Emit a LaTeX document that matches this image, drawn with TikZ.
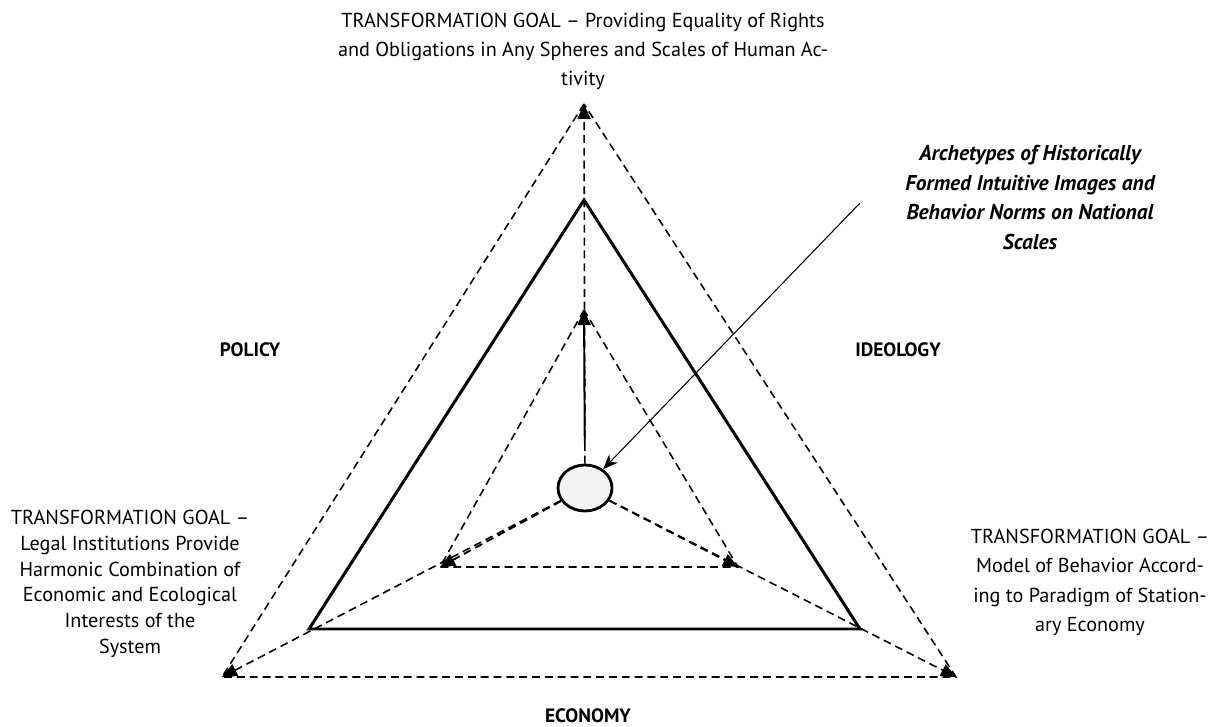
\documentclass[tikz,border=0pt]{standalone}
\usepackage{fontspec}
\setmainfont{PT Sans}
\usetikzlibrary{arrows.meta,positioning,shapes.geometric}
\definecolor{coregray}{rgb}{0.95,0.95,0.95}

\begin{document}
\begin{tikzpicture}[
  goal/.style={align=center,font=\fontsize{11.5}{16.5}\selectfont},
  sidename/.style={font=\bfseries\fontsize{11}{13}\selectfont},
  dline/.style={line width=0.9pt,dash pattern=on 4.5pt off 2.8pt},
  tip/.style={-{Triangle[length=3mm,width=2.6mm]}}]
  \useasboundingbox (0,0) rectangle (24.28,14.52);

  % triangle corners
  \coordinate (outA) at (11.68,12.44);
  \coordinate (outL) at (4.44,0.98);
  \coordinate (outR) at (19.12,0.98);
  \coordinate (midA) at (11.68,10.52);
  \coordinate (midL) at (6.18,1.94);
  \coordinate (midR) at (17.20,1.94);
  \coordinate (inA) at (11.68,8.32);
  \coordinate (inL) at (8.80,3.18);
  \coordinate (inR) at (14.76,3.18);

  \draw[dline] (outA) -- (outL) -- (outR) -- cycle;
  \draw[line width=1.7pt] (midA) -- (midL) -- (midR) -- cycle;
  \draw[dline] (inA) -- (inL) -- (inR) -- cycle;

  \node[ellipse,draw,line width=1.6pt,fill=coregray,minimum width=1.08cm,minimum height=0.92cm] (core) at (11.70,4.76) {};

  \foreach \v in {outA,outL,outR}
    \draw[dline,tip] (core) -- (\v);
  \draw[line width=1.1pt,tip,shorten <=0.4cm] (core) -- (inA);
  \draw[dline,line width=1.1pt,tip] (core) -- (inL);
  \draw[dline,line width=1.1pt,tip] (core) -- (inR);

  \node[goal] (topgoal) at (11.66,13.50) {TRANSFORMATION GOAL -- Providing Equality of Rights\\and Obligations in Any Spheres and Scales of Human Ac-\\tivity};
  \node[goal,font=\fontsize{11.5}{14.6}\selectfont] (leftgoal) at (2.60,2.84) {TRANSFORMATION GOAL --\\Legal Institutions Provide\\Harmonic Combination of\\Economic and Ecological\\Interests of the\\System};
  \node[goal,font=\fontsize{11.5}{16.8}\selectfont] (rightgoal) at (21.80,2.87) {TRANSFORMATION GOAL --\\Model of Behavior Accord-\\ing to Paradigm of Station-\\ary Economy};

  \node[sidename] (policy) at (5.00,7.52) {POLICY};
  \node[sidename] (ideology) at (17.96,7.52) {IDEOLOGY};
  \node[sidename] (economy) at (11.76,0.20) {ECONOMY};

  \node[goal,font=\bfseries\itshape\fontsize{12.2}{17}\selectfont] (arch) at (20.60,10.57) {Archetypes of Historically\\Formed Intuitive Images and\\Behavior Norms on National\\Scales};
  \coordinate (archtail) at (17.20,10.46);
  \draw[line width=0.6pt,-{Stealth[length=3mm,width=2.4mm]}] (archtail) -- (core);
\end{tikzpicture}
\end{document}
